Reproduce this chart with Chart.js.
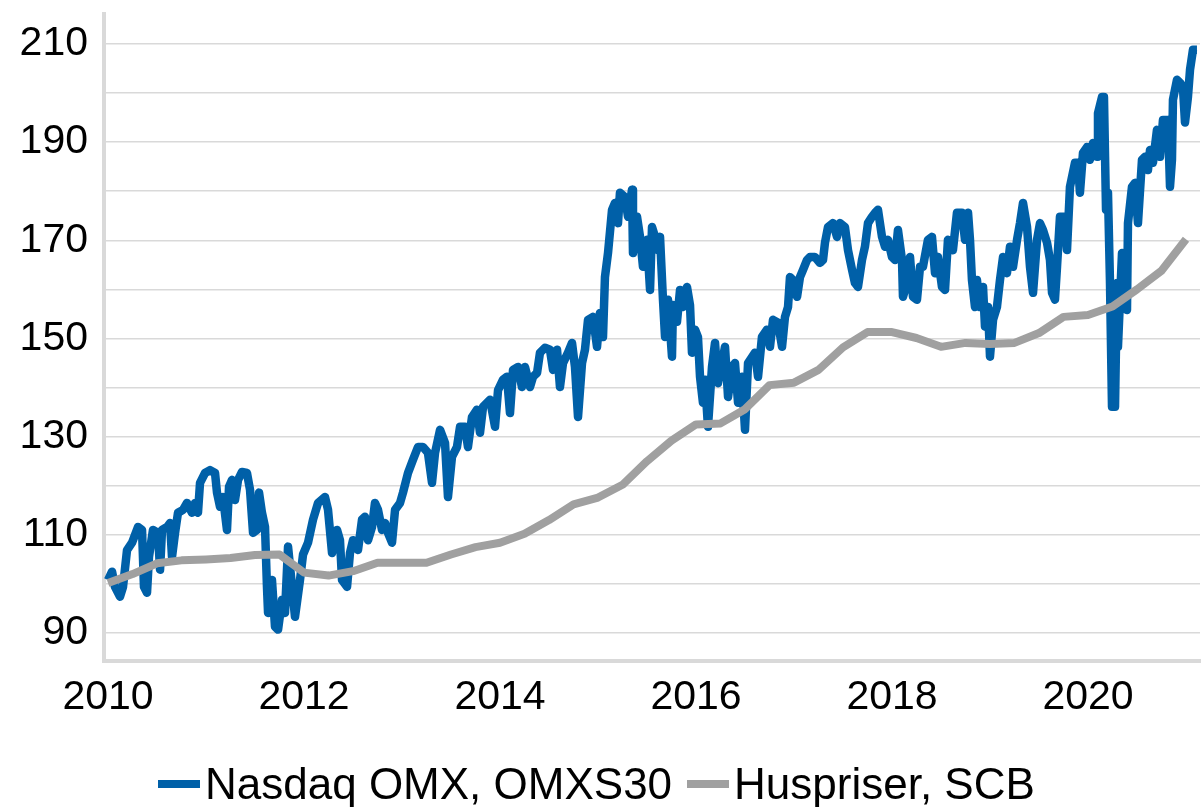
<!DOCTYPE html>
<html>
<head>
<meta charset="utf-8">
<script src="https://cdn.jsdelivr.net/npm/chart.js@4"></script>
<style>
  html, body { margin: 0; padding: 0; background: #fff; overflow: hidden; }
  #wrap { position: relative; width: 1202px; height: 807px; }
  #legend {
    position: absolute; left: 158px; top: 762px;
    display: flex; align-items: center;
    font-family: "Liberation Sans", Arial, sans-serif; font-size: 44px; line-height: 43px; color: #000;
    white-space: nowrap;
  }
  #legend .item { display: flex; align-items: center; margin-right: 15px; }
  #legend .bar { width: 42px; height: 8px; margin-right: 5px; }
</style>
</head>
<body>
<div id="wrap">
  <canvas id="chart"></canvas>
  <div id="legend"></div>
</div>
<script>
// Nasdaq OMX, OMXS30 (index, weekly-ish readings)
const omxTime = [
  2010.000, 2010.041, 2010.071, 2010.122, 2010.153, 2010.194, 2010.245, 2010.306, 2010.347, 2010.367,
  2010.398, 2010.418, 2010.459, 2010.510, 2010.531, 2010.551, 2010.602, 2010.633, 2010.653, 2010.684,
  2010.714, 2010.765, 2010.806, 2010.857, 2010.888, 2010.918, 2010.939, 2010.990, 2011.041, 2011.092,
  2011.112, 2011.143, 2011.173, 2011.214, 2011.235, 2011.265, 2011.296, 2011.327, 2011.367, 2011.418,
  2011.449, 2011.480, 2011.520, 2011.541, 2011.571, 2011.602, 2011.622, 2011.633, 2011.673, 2011.704,
  2011.735, 2011.776, 2011.806, 2011.837, 2011.878, 2011.908, 2011.959, 2011.990, 2012.041, 2012.092,
  2012.143, 2012.214, 2012.245, 2012.286, 2012.337, 2012.367, 2012.388, 2012.439, 2012.469, 2012.500,
  2012.551, 2012.592, 2012.622, 2012.653, 2012.694, 2012.724, 2012.755, 2012.796, 2012.827, 2012.857,
  2012.898, 2012.929, 2012.980, 2013.010, 2013.061, 2013.112, 2013.163, 2013.214, 2013.265, 2013.306,
  2013.337, 2013.388, 2013.439, 2013.469, 2013.510, 2013.561, 2013.592, 2013.643, 2013.673, 2013.714,
  2013.765, 2013.796, 2013.827, 2013.898, 2013.949, 2013.980, 2014.031, 2014.071, 2014.102, 2014.133,
  2014.184, 2014.224, 2014.255, 2014.306, 2014.337, 2014.378, 2014.408, 2014.459, 2014.510, 2014.541,
  2014.582, 2014.612, 2014.643, 2014.694, 2014.735, 2014.765, 2014.796, 2014.837, 2014.867, 2014.898,
  2014.949, 2014.990, 2015.020, 2015.051, 2015.071, 2015.102, 2015.143, 2015.173, 2015.204, 2015.224,
  2015.276, 2015.306, 2015.347, 2015.357, 2015.398, 2015.429, 2015.459, 2015.500, 2015.531, 2015.551,
  2015.582, 2015.612, 2015.633, 2015.663, 2015.684, 2015.714, 2015.755, 2015.765, 2015.806, 2015.837,
  2015.867, 2015.908, 2015.939, 2015.959, 2015.990, 2016.020, 2016.041, 2016.071, 2016.092, 2016.122,
  2016.163, 2016.194, 2016.224, 2016.265, 2016.296, 2016.327, 2016.367, 2016.398, 2016.429, 2016.469,
  2016.500, 2016.531, 2016.602, 2016.633, 2016.673, 2016.724, 2016.755, 2016.786, 2016.837, 2016.878,
  2016.908, 2016.939, 2016.959, 2016.990, 2017.031, 2017.061, 2017.092, 2017.133, 2017.163, 2017.214,
  2017.265, 2017.296, 2017.316, 2017.347, 2017.398, 2017.439, 2017.469, 2017.520, 2017.551, 2017.592,
  2017.622, 2017.653, 2017.694, 2017.724, 2017.755, 2017.796, 2017.827, 2017.857, 2017.898, 2017.929,
  2017.959, 2018.000, 2018.031, 2018.061, 2018.102, 2018.112, 2018.153, 2018.184, 2018.214, 2018.255,
  2018.286, 2018.316, 2018.367, 2018.408, 2018.439, 2018.469, 2018.510, 2018.541, 2018.571, 2018.622,
  2018.663, 2018.714, 2018.745, 2018.776, 2018.796, 2018.816, 2018.847, 2018.867, 2018.898, 2018.929,
  2018.949, 2018.980, 2019.000, 2019.031, 2019.071, 2019.102, 2019.133, 2019.173, 2019.204, 2019.235,
  2019.276, 2019.306, 2019.337, 2019.378, 2019.408, 2019.439, 2019.480, 2019.510, 2019.541, 2019.582,
  2019.612, 2019.633, 2019.663, 2019.684, 2019.714, 2019.765, 2019.786, 2019.816, 2019.867, 2019.898,
  2019.918, 2019.949, 2019.990, 2020.020, 2020.051, 2020.092, 2020.102, 2020.143, 2020.163, 2020.184,
  2020.204, 2020.224, 2020.245, 2020.276, 2020.296, 2020.306, 2020.347, 2020.357, 2020.398, 2020.408,
  2020.449, 2020.480, 2020.510, 2020.551, 2020.582, 2020.612, 2020.633, 2020.663, 2020.704, 2020.735,
  2020.765, 2020.816, 2020.837, 2020.857, 2020.867, 2020.908, 2020.939, 2020.969, 2020.990, 2021.020,
  2021.041, 2021.071, 2021.112
];
const omxValue = [
  100.8, 102.5, 99.4, 97.4, 99.4, 106.9, 108.4, 111.6, 111.0, 99.4,
  98.2, 105.5, 111.0, 110.4, 102.9, 111.0, 111.6, 112.4, 105.5, 110.4,
  114.5, 115.1, 116.5, 114.5, 116.5, 114.5, 120.6, 122.6, 123.2, 122.6,
  118.6, 115.7, 117.7, 111.0, 119.8, 121.2, 117.1, 121.2, 122.8, 122.6,
  119.2, 110.4, 111.0, 118.6, 114.5, 111.6, 99.4, 94.1, 100.8, 91.3,
  90.7, 96.8, 94.1, 107.6, 99.4, 93.3, 100.8, 106.0, 108.4, 113.1,
  116.5, 117.7, 115.1, 106.3, 111.0, 108.9, 100.8, 99.4, 106.3, 108.9,
  106.9, 113.1, 113.7, 108.9, 111.6, 116.5, 115.1, 111.0, 112.4, 110.4,
  108.4, 115.1, 116.5, 118.6, 122.6, 125.3, 127.9, 127.9, 126.7, 120.6,
  126.7, 131.4, 128.7, 117.7, 125.9, 127.9, 132.0, 132.0, 127.9, 134.0,
  135.5, 130.8, 136.1, 137.5, 132.0, 139.5, 141.6, 142.2, 134.8, 143.6,
  144.2, 140.1, 144.2, 140.1, 142.2, 143.0, 147.1, 148.1, 147.7, 143.6,
  147.7, 140.1, 145.0, 147.1, 149.1, 144.2, 134.0, 145.0, 147.7, 153.8,
  154.4, 148.3, 155.2, 150.3, 162.5, 167.4, 176.2, 177.6, 173.5, 179.7,
  178.8, 174.8, 180.3, 167.4, 174.8, 170.7, 164.6, 170.1, 159.9, 172.7,
  170.7, 168.0, 170.7, 157.9, 150.3, 157.9, 146.3, 156.8, 153.4, 159.9,
  156.4, 160.5, 156.8, 147.1, 151.8, 150.3, 142.2, 136.9, 141.6, 132.0,
  144.2, 149.1, 140.9, 145.0, 148.3, 138.1, 144.2, 145.0, 136.9, 142.2,
  131.4, 145.0, 147.1, 142.2, 150.3, 151.8, 148.3, 153.8, 153.2, 148.3,
  154.4, 156.4, 162.5, 161.9, 158.5, 162.5, 164.0, 166.0, 166.6, 166.6,
  165.4, 166.0, 169.5, 172.7, 173.5, 170.7, 173.5, 172.7, 168.0, 164.0,
  161.3, 160.5, 166.0, 168.7, 173.5, 174.8, 175.6, 176.2, 170.7, 168.7,
  170.1, 166.6, 166.0, 172.1, 166.0, 158.5, 161.3, 166.6, 158.5, 157.9,
  164.6, 164.6, 170.1, 170.7, 163.3, 166.6, 160.5, 159.9, 170.1, 168.0,
  175.6, 175.6, 170.1, 175.6, 170.1, 161.9, 156.4, 161.9, 156.4, 160.5,
  152.4, 156.4, 146.3, 153.8, 156.4, 161.9, 166.6, 163.3, 168.7, 164.6,
  170.1, 173.5, 177.6, 172.7, 164.6, 159.3, 170.1, 173.5, 172.1, 169.5,
  166.0, 159.3, 157.9, 164.6, 174.8, 174.8, 168.0, 180.9, 185.8, 185.8,
  179.7, 187.8, 189.0, 186.4, 189.8, 187.0, 195.9, 199.2, 199.2, 176.2,
  179.7, 161.9, 136.1, 136.1, 161.3, 148.3, 167.4, 156.4, 155.8, 173.5,
  180.9, 181.7, 173.5, 186.4, 187.0, 184.3, 188.4, 185.8, 192.5, 187.0,
  194.5, 194.5, 180.9, 186.4, 198.6, 202.7, 202.1, 201.2, 194.0, 199.2,
  204.7, 208.8, 208.8
];

// Huspriser, SCB (quarterly)
const husTime = [
  2010.00, 2010.25, 2010.50, 2010.75, 2011.00, 2011.25, 2011.50, 2011.75, 2012.00, 2012.25,
  2012.50, 2012.75, 2013.00, 2013.25, 2013.50, 2013.75, 2014.00, 2014.25, 2014.50, 2014.75,
  2015.00, 2015.25, 2015.50, 2015.75, 2016.00, 2016.25, 2016.50, 2016.75, 2017.00, 2017.25,
  2017.50, 2017.75, 2018.00, 2018.25, 2018.50, 2018.75, 2019.00, 2019.25, 2019.50, 2019.75,
  2020.00, 2020.25, 2020.50, 2020.75, 2021.00
];
const husValue = [
  100.2, 102.0, 104.2, 104.8, 105.0, 105.3, 105.9, 106.0, 102.3, 101.7,
  102.6, 104.3, 104.3, 104.3, 106.0, 107.5, 108.4, 110.2, 113.0, 116.2,
  117.6, 120.2, 125.0, 129.2, 132.5, 132.7, 135.6, 140.5, 141.0, 143.6,
  148.2, 151.3, 151.3, 150.1, 148.3, 149.1, 148.9, 149.1, 151.1, 154.4,
  154.8, 156.5, 160.0, 163.8, 170.2
];

const seriesNames = ['Nasdaq OMX, OMXS30', 'Huspriser, SCB'];
const seriesColors = ['#0060a8', '#a0a0a0'];

const yTicks = [90, 100, 110, 120, 130, 140, 150, 160, 170, 180, 190, 200, 210];
const yTickLabels = [90, 110, 130, 150, 170, 190, 210];
const xTicks = [2010, 2012, 2014, 2016, 2018, 2020];

const toPoints = (xs, ys) => xs.map((x, i) => ({ x: x, y: ys[i] }));

const ctx = document.getElementById('chart').getContext('2d');
const chart = new Chart(ctx, {
  type: 'line',
  data: {
    datasets: [
      {
        label: seriesNames[0],
        data: toPoints(omxTime, omxValue),
        borderColor: seriesColors[0],
        backgroundColor: seriesColors[0],
        borderWidth: 8.5,
        borderJoinStyle: 'round',
        pointRadius: 0,
        tension: 0,
        order: 2
      },
      {
        label: seriesNames[1],
        data: toPoints(husTime, husValue),
        borderColor: seriesColors[1],
        backgroundColor: seriesColors[1],
        borderWidth: 8,
        borderJoinStyle: 'round',
        pointRadius: 0,
        tension: 0,
        order: 1
      }
    ]
  },
  options: {
    responsive: true,
    maintainAspectRatio: false,
    animation: false,
    layout: { padding: { top: 14, right: 2, bottom: 0, left: 0 } },
    plugins: {
      legend: { display: false },
      tooltip: { enabled: false }
    },
    scales: {
      x: {
        type: 'linear',
        min: 2009.959,
        max: 2021.143,
        afterBuildTicks: (scale) => { scale.ticks = xTicks.map(v => ({ value: v })); },
        afterFit: (scale) => { scale.height = 146; scale.paddingLeft = 0; scale.paddingRight = 0; },
        grid: { display: false, drawTicks: false },
        border: { display: true, color: '#d9d9d9', width: 4 },
        ticks: {
          autoSkip: false,
          maxRotation: 0,
          padding: 12,
          color: '#000',
          font: { family: '"Liberation Sans", Arial, sans-serif', size: 41 },
          callback: (v) => String(v)
        }
      },
      y: {
        min: 84.3,
        max: 216.1,
        afterBuildTicks: (scale) => { scale.ticks = yTicks.map(v => ({ value: v })); },
        afterFit: (scale) => { scale.width = 104; scale.paddingTop = 0; scale.paddingBottom = 0; },
        grid: { color: '#d9d9d9', lineWidth: 1.5, drawTicks: false },
        border: { display: true, color: '#d9d9d9', width: 4 },
        ticks: {
          autoSkip: false,
          padding: 16,
          color: '#000',
          font: { family: '"Liberation Sans", Arial, sans-serif', size: 41 },
          callback: (v) => yTickLabels.includes(v) ? String(v) : ''
        }
      }
    }
  }
});

// legend as html, built from the datasets
const legendEl = document.getElementById('legend');
chart.data.datasets.forEach(ds => {
  const item = document.createElement('div');
  item.className = 'item';
  const bar = document.createElement('span');
  bar.className = 'bar';
  bar.style.background = ds.borderColor;
  const txt = document.createElement('span');
  txt.textContent = ds.label;
  item.appendChild(bar);
  item.appendChild(txt);
  legendEl.appendChild(item);
});
</script>
</body>
</html>
